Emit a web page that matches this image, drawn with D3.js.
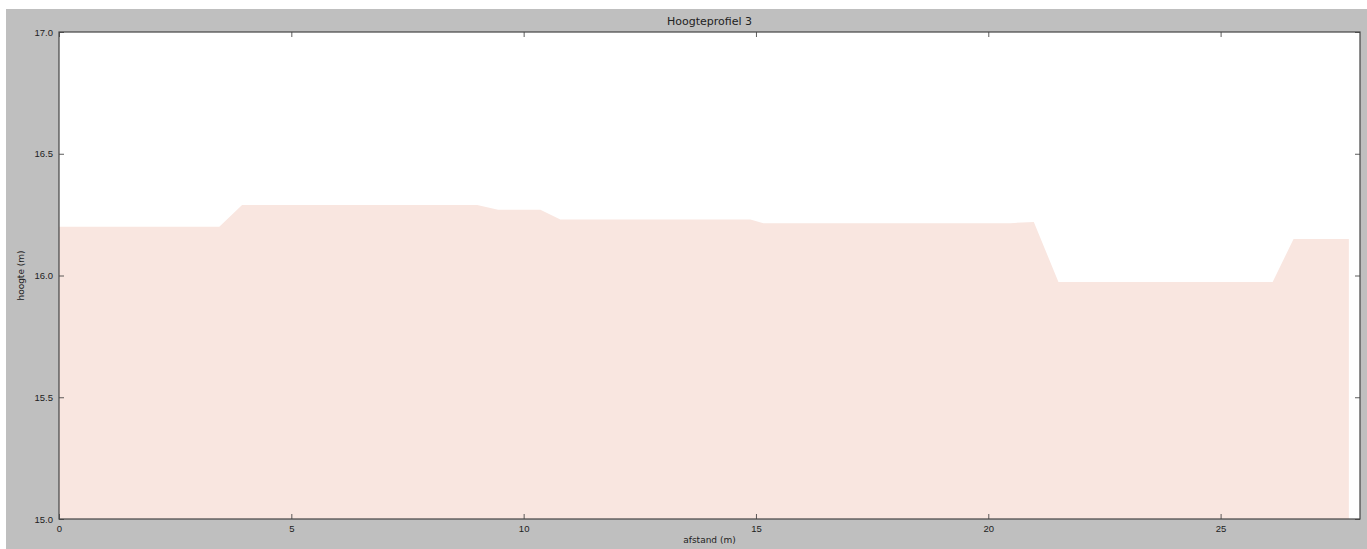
<!DOCTYPE html>
<html>
<head>
<meta charset="utf-8">
<script src="https://cdn.jsdelivr.net/npm/d3@7"></script>
<style>
  html, body { margin: 0; padding: 0; background: #fff; }
  svg { display: block; font-family: "DejaVu Sans", sans-serif; }
</style>
</head>
<body>
<div id="chart"></div>
<script>
// profile vertices
const afstand = [0, 3.45, 3.94, 9.0, 9.45, 10.36, 10.79, 14.88, 15.16, 20.48, 20.98, 21.51, 26.12, 26.57, 27.76];
const hoogte  = [16.20, 16.20, 16.29, 16.29, 16.27, 16.27, 16.23, 16.23, 16.215, 16.215, 16.22, 15.973, 15.973, 16.15, 16.15];
const xTicks = [0, 5, 10, 15, 20, 25];
const yTicks = [15.0, 15.5, 16.0, 16.5, 17.0];

const data = afstand.map((d, i) => ({ x: d, y: hoogte[i] }));

const W = 1367, H = 549;
const plot = { left: 59, right: 1360, top: 32, bottom: 519 };

const svg = d3.select("#chart").append("svg")
    .attr("width", W)
    .attr("height", H);

// grey figure background
svg.append("rect")
    .attr("x", 6).attr("y", 9)
    .attr("width", W - 6).attr("height", H - 9)
    .attr("fill", "#bfbfbf");

const xScale = d3.scaleLinear().domain([0, 28]).range([plot.left, plot.right]);
const yScale = d3.scaleLinear().domain([15, 17]).range([plot.bottom, plot.top]);

svg.append("rect")
    .attr("x", plot.left).attr("y", plot.top)
    .attr("width", plot.right - plot.left).attr("height", plot.bottom - plot.top)
    .attr("fill", "#ffffff");

const area = d3.area()
    .x(d => xScale(d.x))
    .y0(yScale(15))
    .y1(d => yScale(d.y));

svg.append("path")
    .datum(data)
    .attr("d", area)
    .attr("fill", "#f9e6e0");

// axes, ticks pointing inward like matplotlib classic
const tickStyle = g => {
    g.select(".domain").remove();
    g.selectAll(".tick line").attr("stroke", "#333").attr("stroke-width", 0.8);
    g.selectAll(".tick text").attr("fill", "#222").style("font-size", "9.5px");
};

svg.append("g")
    .attr("transform", `translate(0,${plot.bottom})`)
    .call(d3.axisBottom(xScale).tickValues(xTicks).tickSizeInner(-5).tickSizeOuter(0).tickPadding(6).tickFormat(d3.format("d")))
    .call(tickStyle);

svg.append("g")
    .attr("transform", `translate(0,${plot.top})`)
    .call(d3.axisTop(xScale).tickValues(xTicks).tickSizeInner(-5).tickSizeOuter(0).tickFormat(""))
    .call(tickStyle);

svg.append("g")
    .attr("transform", `translate(${plot.left},0)`)
    .call(d3.axisLeft(yScale).tickValues(yTicks).tickSizeInner(-5).tickSizeOuter(0).tickPadding(6).tickFormat(d3.format(".1f")))
    .call(tickStyle);

svg.append("g")
    .attr("transform", `translate(${plot.right},0)`)
    .call(d3.axisRight(yScale).tickValues(yTicks).tickSizeInner(-5).tickSizeOuter(0).tickFormat(""))
    .call(tickStyle);

// frame
svg.append("rect")
    .attr("x", plot.left).attr("y", plot.top)
    .attr("width", plot.right - plot.left).attr("height", plot.bottom - plot.top)
    .attr("fill", "none")
    .attr("stroke", "#444")
    .attr("stroke-width", 1.2);

svg.append("text")
    .attr("x", (plot.left + plot.right) / 2)
    .attr("y", 25)
    .attr("text-anchor", "middle")
    .style("font-size", "11px")
    .attr("fill", "#222")
    .text("Hoogteprofiel 3");

svg.append("text")
    .attr("x", (plot.left + plot.right) / 2)
    .attr("y", 543)
    .attr("text-anchor", "middle")
    .style("font-size", "9px")
    .attr("fill", "#222")
    .text("afstand (m)");

svg.append("text")
    .attr("transform", `translate(24,${(plot.top + plot.bottom) / 2}) rotate(-90)`)
    .attr("text-anchor", "middle")
    .style("font-size", "9px")
    .attr("fill", "#222")
    .text("hoogte (m)");
</script>
</body>
</html>
